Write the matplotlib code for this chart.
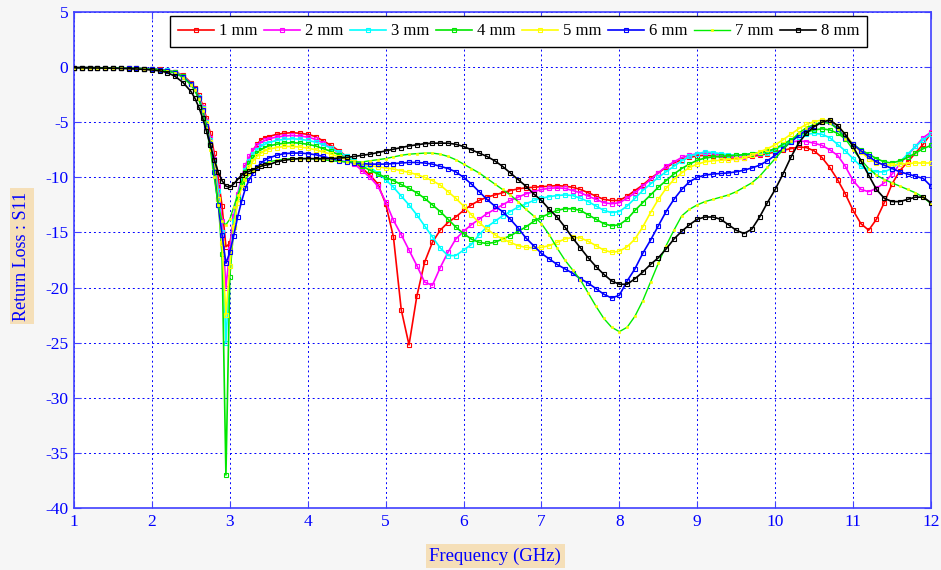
import numpy as np
import matplotlib
matplotlib.use("Agg")
import matplotlib.pyplot as plt

plt.rcParams["axes.unicode_minus"] = False

# Frequency grid (GHz): 0.1 GHz steps, 0.05 GHz around the 3 GHz resonance
freq = np.round(np.r_[np.arange(1.0, 2.45, 0.1),
                      np.arange(2.5, 3.46, 0.05),
                      np.arange(3.5, 12.01, 0.1)], 2)

labels = ["1 mm", "2 mm", "3 mm", "4 mm", "5 mm", "6 mm", "7 mm", "8 mm"]

s11_1mm = [-0.05, -0.05, -0.05, -0.06, -0.07, -0.08, -0.09, -0.1, -0.12, -0.14, -0.17, -0.21, -0.28, -0.42, -0.75,
           -1.4, -1.9, -2.5, -3.4, -4.6, -6.0, -7.8, -10.0, -12.6, -16.3, -16.0, -14.0, -11.8, -10.2, -9.1, -8.3, -7.5, -7.0, -6.6, -6.4,
           -6.3, -6.1, -6.0, -5.95, -6.0, -6.1, -6.3, -6.7, -7.1, -7.6,
           -8.1, -8.6, -9.2, -9.8, -10.6, -12.4, -15.4, -22.0, -25.2, -20.8,
           -17.7, -15.9, -14.8, -14.1, -13.6, -13.0, -12.5, -12.1, -11.8, -11.6,
           -11.4, -11.2, -11.05, -10.95, -10.9, -10.85, -10.8, -10.75, -10.8, -10.9,
           -11.1, -11.4, -11.7, -12.0, -12.1, -12.1, -11.7, -11.2, -10.7, -10.1,
           -9.6, -9.1, -8.7, -8.4, -8.2, -8.05, -8.0, -8.05, -8.15, -8.25,
           -8.3, -8.25, -8.1, -8.0, -7.85, -7.7, -7.55, -7.4, -7.25, -7.3,
           -7.6, -8.2, -9.1, -10.2, -11.5, -13.0, -14.2, -14.8, -13.8, -12.3,
           -10.6, -9.4, -8.6, -7.8, -7.0, -6.0]

s11_2mm = [-0.05, -0.05, -0.05, -0.06, -0.07, -0.08, -0.09, -0.1, -0.12, -0.14, -0.17, -0.22, -0.3, -0.45, -0.8,
           -1.5, -2.0, -2.7, -3.6, -4.9, -6.4, -8.3, -10.8, -14.0, -20.0, -16.5, -13.5, -11.5, -10.0, -8.9, -8.1, -7.5, -7.1, -6.85, -6.65,
           -6.5, -6.35, -6.25, -6.2, -6.25, -6.35, -6.55, -6.9, -7.3, -7.8,
           -8.3, -8.8, -9.4, -10.0, -10.8, -12.2, -13.9, -15.2, -16.6, -18.0,
           -19.5, -19.8, -18.2, -16.8, -15.6, -14.9, -14.3, -13.8, -13.3, -12.9,
           -12.5, -12.1, -11.8, -11.5, -11.3, -11.1, -11.0, -10.95, -11.0, -11.2,
           -11.4, -11.7, -12.0, -12.3, -12.4, -12.3, -11.9, -11.4, -10.8, -10.2,
           -9.6, -9.0, -8.6, -8.2, -8.0, -7.85, -7.8, -7.85, -8.0, -8.1,
           -8.2, -8.15, -8.0, -7.85, -7.65, -7.4, -7.1, -6.8, -6.7, -6.75,
           -6.9, -7.1, -7.5, -8.0, -9.0, -10.3, -11.1, -11.3, -11.0, -10.5,
           -9.7, -8.8, -8.0, -7.2, -6.4, -5.9]

s11_3mm = [-0.05, -0.05, -0.05, -0.06, -0.07, -0.08, -0.09, -0.1, -0.12, -0.14, -0.17, -0.22, -0.3, -0.46, -0.82,
           -1.5, -2.0, -2.7, -3.7, -5.0, -6.6, -8.6, -11.2, -15.0, -25.0, -18.0, -14.0, -11.8, -10.3, -9.3, -8.5, -7.9, -7.5, -7.2, -7.0,
           -6.85, -6.65, -6.55, -6.5, -6.55, -6.65, -6.8, -7.05, -7.35, -7.7,
           -8.1, -8.5, -8.8, -9.1, -9.6, -10.2, -10.9, -11.7, -12.5, -13.4,
           -14.4, -15.4, -16.4, -17.1, -17.1, -16.6, -16.1, -15.2, -14.5, -14.0,
           -13.5, -13.1, -12.7, -12.4, -12.1, -11.9, -11.75, -11.65, -11.6, -11.65,
           -11.9, -12.2, -12.6, -13.0, -13.2, -13.1, -12.6, -11.9, -11.2, -10.6,
           -10.0, -9.5, -9.0, -8.5, -8.1, -7.85, -7.7, -7.75, -7.85, -7.95,
           -8.0, -7.95, -7.85, -7.8, -7.75, -7.5, -7.1, -6.7, -6.3, -6.1,
           -6.0, -6.1, -6.4, -7.0, -7.6, -8.3, -9.0, -9.3, -9.5, -9.5,
           -9.2, -8.6, -7.9, -7.2, -6.6, -6.1]

s11_4mm = [-0.05, -0.05, -0.05, -0.06, -0.07, -0.08, -0.09, -0.1, -0.12, -0.15, -0.18, -0.23, -0.31, -0.48, -0.85,
           -1.5, -2.0, -2.8, -3.8, -5.2, -6.9, -9.0, -12.0, -17.0, -37.0, -19.0, -14.5, -12.0, -10.5, -9.5, -8.7, -8.2, -7.8, -7.5, -7.3,
           -7.15, -7.0, -6.9, -6.85, -6.9, -7.0, -7.15, -7.4, -7.65, -7.95,
           -8.3, -8.65, -9.0, -9.35, -9.7, -10.0, -10.3, -10.65, -11.0, -11.4,
           -11.9, -12.5, -13.1, -13.8, -14.5, -15.1, -15.6, -15.9, -16.0, -15.9,
           -15.6, -15.3, -14.9, -14.5, -14.0, -13.6, -13.3, -13.0, -12.85, -12.85,
           -13.0, -13.4, -13.8, -14.2, -14.4, -14.3, -13.8, -13.0, -12.3, -11.6,
           -10.9, -10.3, -9.7, -9.2, -8.8, -8.45, -8.25, -8.15, -8.1, -8.05,
           -8.0, -7.95, -7.85, -7.75, -7.65, -7.4, -7.0, -6.6, -6.2, -5.9,
           -5.7, -5.6, -5.7, -6.0, -6.5, -7.0, -7.5, -7.9, -8.3, -8.6,
           -8.7, -8.5, -8.2, -7.8, -7.4, -7.1]

s11_5mm = [-0.05, -0.05, -0.05, -0.06, -0.07, -0.08, -0.09, -0.1, -0.12, -0.15, -0.18, -0.23, -0.32, -0.5, -0.88,
           -1.5, -2.0, -2.8, -3.8, -5.1, -6.8, -9.0, -12.0, -16.0, -22.5, -18.0, -14.5, -12.3, -10.9, -9.9, -9.1, -8.5, -8.1, -7.8, -7.6,
           -7.45, -7.3, -7.2, -7.2, -7.25, -7.35, -7.5, -7.7, -7.9, -8.15,
           -8.4, -8.6, -8.8, -8.95, -9.05, -9.15, -9.25, -9.4, -9.55, -9.75,
           -10.0, -10.3, -10.7, -11.3, -11.9, -12.6, -13.4, -14.1, -14.7, -15.2,
           -15.6, -15.9, -16.2, -16.35, -16.4, -16.35, -16.2, -15.9, -15.6, -15.45,
           -15.5, -15.8, -16.2, -16.6, -16.8, -16.7, -16.3, -15.6, -14.5, -13.2,
           -12.0, -11.0, -10.2, -9.6, -9.1, -8.8, -8.6, -8.5, -8.45, -8.4,
           -8.35, -8.25, -8.0, -7.7, -7.4, -7.05, -6.6, -6.1, -5.6, -5.2,
           -4.95, -4.8, -4.85, -5.3, -6.1, -7.0, -7.7, -8.3, -8.7, -8.85,
           -8.9, -8.8, -8.75, -8.7, -8.7, -8.7]

s11_6mm = [-0.05, -0.05, -0.05, -0.06, -0.07, -0.08, -0.09, -0.1, -0.12, -0.15, -0.18, -0.24, -0.33, -0.52, -0.9,
           -1.5, -2.0, -2.8, -3.9, -5.3, -7.0, -9.5, -12.5, -15.2, -17.8, -16.8, -15.3, -13.6, -12.2, -11.0, -10.2, -9.6, -9.1, -8.7, -8.45,
           -8.25, -8.0, -7.85, -7.8, -7.8, -7.85, -7.95, -8.1, -8.3, -8.5,
           -8.6, -8.7, -8.75, -8.8, -8.8, -8.8, -8.75, -8.7, -8.65, -8.65,
           -8.7, -8.8, -9.0, -9.2, -9.5, -10.0, -10.6, -11.3, -12.0, -12.6,
           -13.1, -13.8, -14.6, -15.5, -16.2, -16.9, -17.4, -17.9, -18.3, -18.7,
           -19.2, -19.6, -20.1, -20.6, -20.95, -20.7, -19.4, -18.3, -16.9, -15.7,
           -14.4, -13.1, -12.0, -11.1, -10.4, -10.0, -9.8, -9.7, -9.65, -9.6,
           -9.5, -9.35, -9.15, -8.9, -8.5, -8.0, -7.4, -6.8, -6.2, -5.7,
           -5.3, -5.0, -5.0, -5.6, -6.4, -7.0, -7.6, -8.1, -8.6, -8.9,
           -9.2, -9.5, -9.7, -9.9, -10.1, -10.8]

s11_7mm = [-0.05, -0.05, -0.05, -0.06, -0.07, -0.08, -0.09, -0.1, -0.12, -0.15, -0.19, -0.25, -0.35, -0.55, -0.95,
           -1.6, -2.1, -2.9, -4.0, -5.5, -7.5, -10.0, -12.5, -14.0, -14.3, -13.8, -12.7, -11.6, -10.8, -10.2, -9.7, -9.4, -9.1, -8.9, -8.75,
           -8.6, -8.45, -8.35, -8.3, -8.3, -8.3, -8.35, -8.4, -8.5, -8.55,
           -8.6, -8.6, -8.6, -8.5, -8.4, -8.3, -8.15, -8.0, -7.9, -7.85,
           -7.8, -7.8, -7.9, -8.1, -8.4, -8.8, -9.2, -9.6, -10.1, -10.6,
           -11.1, -11.6, -12.2, -12.9, -13.5, -14.2, -15.2, -16.4, -17.5, -18.4,
           -19.3, -20.5, -21.7, -22.8, -23.6, -24.0, -23.6, -22.6, -21.2, -19.5,
           -17.8, -16.2, -14.8, -13.5, -12.9, -12.5, -12.2, -12.0, -11.8, -11.6,
           -11.3, -10.9, -10.5, -9.9, -9.1, -8.3, -7.5, -6.7, -6.0, -5.5,
           -5.2, -5.0, -5.1, -5.6, -6.5, -7.5, -8.4, -9.2, -9.8, -10.2,
           -10.5, -10.8, -11.1, -11.4, -11.8, -12.4]

s11_8mm = [-0.06, -0.06, -0.07, -0.08, -0.09, -0.1, -0.12, -0.14, -0.17, -0.21, -0.26, -0.34, -0.5, -0.85, -1.4,
           -2.2, -2.8, -3.6, -4.6, -5.8, -7.1, -8.4, -9.5, -10.3, -10.8, -10.9, -10.6, -10.2, -9.8, -9.6, -9.45, -9.3, -9.15, -9.0, -8.9,
           -8.85, -8.6, -8.45, -8.35, -8.3, -8.3, -8.3, -8.3, -8.3, -8.25,
           -8.2, -8.1, -8.0, -7.9, -7.75, -7.6, -7.45, -7.3, -7.15, -7.05,
           -6.95, -6.9, -6.9, -6.9, -7.0, -7.2, -7.5, -7.8, -8.1, -8.5,
           -9.0, -9.6, -10.2, -10.8, -11.5, -12.1, -12.9, -13.6, -14.5, -15.5,
           -16.4, -17.3, -18.1, -18.8, -19.4, -19.7, -19.7, -19.2, -18.6, -17.9,
           -17.3, -16.5, -15.6, -14.9, -14.3, -13.8, -13.6, -13.6, -13.8, -14.3,
           -14.8, -15.1, -14.7, -13.6, -12.3, -11.1, -9.7, -8.2, -6.9, -6.0,
           -5.4, -5.0, -4.8, -5.3, -6.1, -7.2, -8.5, -9.8, -11.1, -11.9,
           -12.2, -12.2, -12.0, -11.8, -11.8, -12.3]

series = [s11_1mm, s11_2mm, s11_3mm, s11_4mm, s11_5mm, s11_6mm, s11_7mm, s11_8mm]
line_colors = ["#ff0000", "#ff00ff", "#00ffff", "#00e600", "#ffff00", "#0000ff", "#00ee00", "#000000"]
marker_colors = ["#ff0000", "#ff00ff", "#00ffff", "#00e600", "#ffff00", "#0000ff", "#ffff00", "#000000"]

BLUE = "#0000ff"
SERIF = "Liberation Serif"

fig = plt.figure(figsize=(9.41, 5.70), dpi=100, facecolor="#f6f6f6")
ax = fig.add_axes([74 / 941, 62 / 570, 857 / 941, 496 / 570])
ax.set_facecolor("white")

for i, (vals, lab) in enumerate(zip(series, labels)):
    if lab == "7 mm":
        ax.plot(freq, vals, color=line_colors[i], lw=1.0, marker="s", ms=1.6,
                mfc=marker_colors[i], mec=marker_colors[i], mew=0.5, label=lab, zorder=3 + i)
    else:
        ax.plot(freq, vals, color=line_colors[i], lw=1.2, marker="s", ms=3.2,
                mfc="none", mec=marker_colors[i], mew=0.8, label=lab, zorder=3 + i)

ax.set_xlim(1, 12)
ax.set_ylim(-40, 5)
ax.set_xticks(range(1, 13))
ax.set_yticks(range(-40, 6, 5))
ax.grid(True, color=BLUE, linestyle=(0, (2, 3)), linewidth=0.7)
ax.set_axisbelow(True)
for sp in ax.spines.values():
    sp.set_color("#4040ff")
    sp.set_linewidth(1.2)
ax.tick_params(direction="in", top=True, right=True, length=5, width=0.8,
               color="#4040ff", labelcolor=BLUE, labelsize=12.5, pad=4)
for t in ax.get_xticklabels() + ax.get_yticklabels():
    t.set_fontfamily(SERIF)

fig.text(22 / 941, 1 - 256 / 570, "Return Loss : S11", rotation=90, ha="center", va="center",
         color=BLUE, fontsize=13, fontfamily=SERIF,
         bbox=dict(facecolor="#f5dfb8", edgecolor="none", pad=2.5))
fig.text(495 / 941, 1 - 556 / 570, "Frequency (GHz)", ha="center", va="center",
         color=BLUE, fontsize=13.5, fontfamily=SERIF,
         bbox=dict(facecolor="#f5dfb8", edgecolor="none", pad=2.5))

leg = ax.legend(ncol=8, loc="upper center", bbox_to_anchor=(0.519, 0.992),
                frameon=True, fancybox=False, edgecolor="black", framealpha=1,
                prop={"family": SERIF, "size": 12}, handlelength=2.2,
                handletextpad=0.3, columnspacing=0.35, borderpad=0.45, borderaxespad=0)
leg.get_frame().set_linewidth(1.0)
leg.set_zorder(20)

fig.savefig("out.png", dpi=100, facecolor=fig.get_facecolor())
